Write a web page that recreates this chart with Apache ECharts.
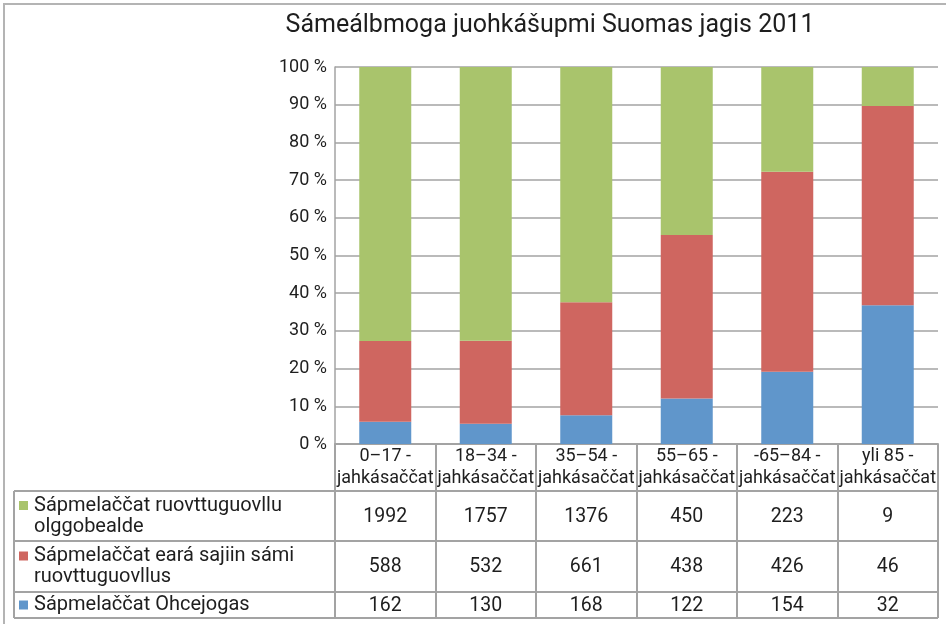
<!DOCTYPE html>
<html>
<head>
<meta charset="utf-8">
<script src="https://cdn.jsdelivr.net/npm/echarts@6/dist/echarts.min.js"></script>
<style>
  html, body { margin: 0; padding: 0; background: #fff; }
  #main { width: 946px; height: 624px; }
</style>
</head>
<body>
<div id="main"></div>
<script>
// data
var categories = ['0–17 -', '18–34 -', '35–54 -', '55–65 -', '-65–84 -', 'yli 85 -'];
var suffix = 'jahkásaččat';
var seriesNames = [
    'Sápmelaččat Ohcejogas',
    'Sápmelaččat eará sajiin sámi\nruovttuguovllus',
    'Sápmelaččat ruovttuguovllu\nolggobealde'
];
var ohcejogas = [162, 130, 168, 122, 154, 32];
var earaSajiin = [588, 532, 661, 438, 426, 46];
var olggobealde = [1992, 1757, 1376, 450, 223, 9];
var yTicks = [0, 10, 20, 30, 40, 50, 60, 70, 80, 90, 100];

var colors = ['#6096cb', '#cf6660', '#a9c46c'];
var font = 'Roboto';
var textColor = '#1e1e1e';
var lineColor = '#a3a3a3';

// plot area
var gLeft = 335, gRight = 938, gTop = 67, gBottom = 444;
var tableLeft = 14;
var rowLines = [491, 541, 592, 618];   // bottoms of header and the three rows

var totals = ohcejogas.map(function (v, i) { return v + earaSajiin[i] + olggobealde[i]; });
function pct(arr) {
    return arr.map(function (v, i) { return v / totals[i] * 100; });
}
var seriesValues = [ohcejogas, earaSajiin, olggobealde];

var myChart = echarts.init(document.getElementById('main'));

// table rows as extra x axes on the same grid (top row = green series)
var tableRows = [olggobealde, earaSajiin, ohcejogas];
var extraAxes = tableRows.map(function (vals, r) {
    var top = rowLines[r], bottom = rowLines[r + 1];
    return {
        type: 'category',
        data: categories,
        position: 'bottom',
        axisLine: { show: false },
        axisTick: { show: false },
        axisLabel: {
            interval: 0,
            margin: (top + bottom) / 2 - gBottom + 1,
            verticalAlign: 'middle',
            fontFamily: font,
            fontSize: 19.5,
            color: textColor,
            formatter: function (v, i) { return String(vals[i]); }
        }
    };
});

var graphics = [
    {
        type: 'rect',
        shape: { x: 4, y: 4, width: 980, height: 660 },
        style: { fill: 'none', stroke: '#b4b4b4', lineWidth: 2 },
        silent: true
    },
    {
        type: 'text',
        x: 550, y: 26,
        style: {
            text: 'Sámeálbmoga juohkášupmi Suomas jagis 2011',
            font: '25px ' + font,
            fill: textColor,
            textAlign: 'center',
            textVerticalAlign: 'middle'
        }
    },
    {
        type: 'line',
        shape: { x1: tableLeft, y1: rowLines[0], x2: tableLeft, y2: rowLines[3] },
        style: { stroke: lineColor, lineWidth: 2 }
    }
];
rowLines.forEach(function (y) {
    graphics.push({
        type: 'line',
        shape: { x1: tableLeft, y1: y, x2: gRight, y2: y },
        style: { stroke: lineColor, lineWidth: 2 }
    });
});
// legend keys + row titles (top row is green)
[2, 1, 0].forEach(function (s, r) {
    var top = rowLines[r], bottom = rowLines[r + 1];
    var lines = seriesNames[s].split('\n').length;
    var textTop = (top + bottom) / 2 - lines * 21 / 2;
    graphics.push({
        type: 'rect',
        shape: { x: 19, y: textTop + 6, width: 9, height: 9 },
        style: { fill: colors[s] }
    });
    graphics.push({
        type: 'text',
        x: 34, y: textTop,
        style: {
            text: seriesNames[s],
            font: '20px ' + font,
            fill: textColor,
            lineHeight: 21
        }
    });
});

var option = {
    animation: false,
    grid: {
        left: gLeft, right: 946 - gRight, top: gTop, bottom: 624 - gBottom,
        containLabel: false
    },
    xAxis: [{
        type: 'category',
        data: categories,
        axisLine: { show: true, lineStyle: { color: lineColor, width: 2 } },
        axisTick: {
            show: true,
            interval: 0,
            length: rowLines[3] - gBottom,
            lineStyle: { color: lineColor, width: 2 }
        },
        axisLabel: {
            interval: 0,
            margin: (gBottom + rowLines[0]) / 2 - gBottom,
            verticalAlign: 'middle',
            fontFamily: font,
            fontSize: 18,
            lineHeight: 22,
            color: textColor,
            formatter: function (v) { return v + '\n' + suffix; }
        }
    }].concat(extraAxes),
    yAxis: {
        type: 'value',
        min: 0,
        max: 100,
        interval: 10,
        axisLine: { show: true, lineStyle: { color: lineColor, width: 1.5 } },
        axisTick: { show: false },
        splitLine: { lineStyle: { color: lineColor, width: 1.5 } },
        axisLabel: {
            margin: 8,
            fontFamily: font,
            fontSize: 18,
            color: textColor,
            formatter: function (v) { return v + ' %'; }
        }
    },
    series: seriesValues.map(function (arr, i) {
        return {
            name: seriesNames[i],
            type: 'bar',
            stack: 'total',
            barWidth: 52,
            data: pct(arr),
            itemStyle: { color: colors[i] }
        };
    }),
    graphic: graphics
};

myChart.setOption(option);
</script>
</body>
</html>
